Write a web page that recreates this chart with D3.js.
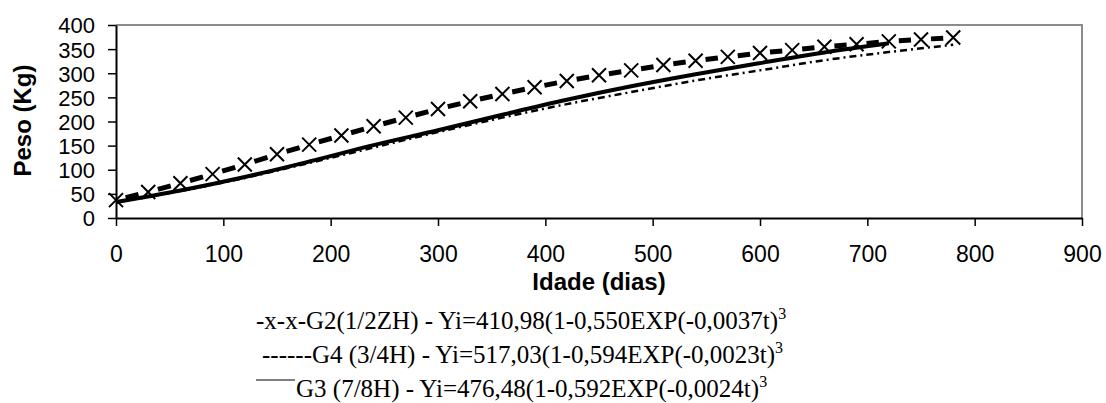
<!DOCTYPE html>
<html lang="pt">

<head>
    <meta charset="UTF-8">
    <title>Peso x Idade</title>
    <script src="https://d3js.org/d3.v7.min.js"></script>
    <style>
        body {
            margin: 0;
            background: #ffffff;
        }

        .tick text {
            font-family: "Liberation Sans", Arial, sans-serif;
            font-size: 23px;
            fill: #000;
        }

        .eixoY .tick text {
            font-size: 22px;
        }

        .titulo {
            font-family: "Liberation Sans", Arial, sans-serif;
            font-size: 24px;
            font-weight: bold;
        }

        .legenda {
            font-family: "Liberation Serif", "Times New Roman", serif;
            font-size: 25px;
        }
    </style>
</head>

<body>
    <svg id="grafico" width="1106" height="403"></svg>

    <script>
        // G2 (1/2ZH) - pontos com marcador x
        var g2Dias = [0, 30, 60, 90, 120, 150, 180, 210, 240, 270, 300, 330, 360, 390,
            420, 450, 480, 510, 540, 570, 600, 630, 660, 690, 720, 750, 780];
        var g2Peso = [37, 54, 72, 91, 111, 132, 152, 171, 190, 208, 226, 242, 257, 271,
            284, 296, 306, 317, 326, 334, 342, 348, 355, 360, 366, 370, 374];

        // G3 (7/8H) - linha continua
        var g3Dias = [0, 60, 120, 180, 240, 300, 360, 420, 480, 540, 600, 660, 720];
        var g3Peso = [33, 57, 85, 117, 151, 182, 214, 245, 273, 298, 321, 343, 362];

        // G4 (3/4H) - linha traco-ponto
        var g4Dias = [0, 60, 120, 180, 240, 300, 360, 420, 480, 540, 600, 660, 720, 780];
        var g4Peso = [33, 56, 83, 114, 146, 178, 208, 236, 261, 285, 306, 327, 344, 359];

        var xTicks = [0, 100, 200, 300, 400, 500, 600, 700, 800, 900];
        var yTicks = [0, 50, 100, 150, 200, 250, 300, 350, 400];

        var legendas = [
            "-x-x-G2(1/2ZH) - Yi=410,98(1-0,550EXP(-0,0037t)",
            "------G4 (3/4H) - Yi=517,03(1-0,594EXP(-0,0023t)",
            "G3 (7/8H) - Yi=476,48(1-0,592EXP(-0,0024t)"
        ];

        var svg = d3.select("#grafico");
        var margin = { top: 25, right: 24, bottom: 185, left: 116 };
        var width = +svg.attr("width") - margin.left - margin.right;
        var height = +svg.attr("height") - margin.top - margin.bottom;

        var x = d3.scaleLinear().domain([0, 900]).range([0, width]);
        var y = d3.scaleLinear().domain([0, 400]).range([height, 0]);

        var g = svg.append("g")
            .attr("transform", "translate(" + margin.left + "," + margin.top + ")");

        // moldura cinza (topo e direita)
        g.append("path")
            .attr("d", "M0,0H" + width + "V" + height)
            .attr("fill", "none")
            .attr("stroke", "#8c8c8c")
            .attr("stroke-width", 2);

        // eixos
        var xAxis = g.append("g")
            .attr("transform", "translate(0," + height + ")")
            .call(d3.axisBottom(x).tickValues(xTicks).tickSize(8).tickPadding(20).tickSizeOuter(0));
        var yAxis = g.append("g")
            .attr("class", "eixoY")
            .call(d3.axisLeft(y).tickValues(yTicks).tickSize(8).tickPadding(13).tickSizeOuter(0));

        xAxis.selectAll("line").attr("stroke", "#000").attr("stroke-width", 1.5);
        yAxis.selectAll("line").attr("stroke", "#000").attr("stroke-width", 1.5);
        xAxis.select(".domain").attr("stroke", "#000").attr("stroke-width", 2);
        yAxis.select(".domain").attr("stroke", "#000").attr("stroke-width", 2);
        yAxis.selectAll("text").attr("dy", "0.36em");

        // titulos
        svg.append("text")
            .attr("class", "titulo")
            .attr("x", margin.left + width / 2)
            .attr("y", 290)
            .attr("text-anchor", "middle")
            .text("Idade (dias)");

        svg.append("text")
            .attr("class", "titulo")
            .attr("transform", "translate(31," + (margin.top + height / 2 - 1) + ") rotate(-90)")
            .attr("text-anchor", "middle")
            .text("Peso (Kg)");

        // series
        var line = d3.line().curve(d3.curveMonotoneX);

        var g4 = d3.zip(g4Dias, g4Peso);
        g.append("path")
            .attr("d", line.x(function (d) { return x(d[0]); }).y(function (d) { return y(d[1]); })(g4))
            .attr("fill", "none")
            .attr("stroke", "#000")
            .attr("stroke-width", 2.5)
            .attr("stroke-dasharray", "7,4,2,4");

        var g3 = d3.zip(g3Dias, g3Peso);
        g.append("path")
            .attr("d", line(g3))
            .attr("fill", "none")
            .attr("stroke", "#000")
            .attr("stroke-width", 4);

        // G2: tracos entre marcadores
        var g2 = d3.zip(g2Dias, g2Peso);
        var recuo = 10;
        var tracos = d3.pairs(g2).map(function (p) {
            var x0 = x(p[0][0]), y0 = y(p[0][1]), x1 = x(p[1][0]), y1 = y(p[1][1]);
            var len = Math.hypot(x1 - x0, y1 - y0);
            var ux = (x1 - x0) / len, uy = (y1 - y0) / len;
            return [x0 + ux * recuo, y0 + uy * recuo, x1 - ux * recuo, y1 - uy * recuo];
        });
        g.append("g").selectAll("line")
            .data(tracos)
            .join("line")
            .attr("x1", function (d) { return d[0]; })
            .attr("y1", function (d) { return d[1]; })
            .attr("x2", function (d) { return d[2]; })
            .attr("y2", function (d) { return d[3]; })
            .attr("stroke", "#000")
            .attr("stroke-width", 5);

        var s = 7;
        g.append("g").selectAll("path")
            .data(g2)
            .join("path")
            .attr("transform", function (d) { return "translate(" + x(d[0]) + "," + y(d[1]) + ")"; })
            .attr("d", "M" + -s + "," + -s + "L" + s + "," + s + "M" + -s + "," + s + "L" + s + "," + -s)
            .attr("stroke", "#000")
            .attr("stroke-width", 2)
            .attr("fill", "none");

        // legenda
        var legX = [256, 262, 296];
        var legY = [329, 363, 397];
        legendas.forEach(function (txt, i) {
            var t = svg.append("text")
                .attr("class", "legenda")
                .attr("x", legX[i])
                .attr("y", legY[i]);
            t.append("tspan").text(txt);
            t.append("tspan")
                .attr("dy", -10)
                .attr("font-size", 16)
                .text("3");
        });
        svg.append("line")
            .attr("x1", 256).attr("x2", 295)
            .attr("y1", legY[2] - 17).attr("y2", legY[2] - 17)
            .attr("stroke", "#000")
            .attr("stroke-width", 1);
    </script>
</body>

</html>
